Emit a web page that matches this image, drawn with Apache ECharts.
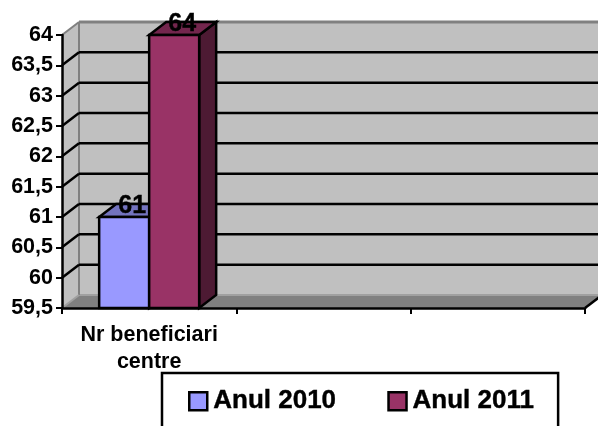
<!DOCTYPE html>
<html>
<head>
<meta charset="utf-8">
<style>
  html, body { margin: 0; padding: 0; background: #fff; }
  #chart { width: 598px; height: 426px; }
</style>
<script src="https://cdn.jsdelivr.net/npm/echarts@6/dist/echarts.min.js"></script>
</head>
<body>
<div id="chart"></div>
<script>
var categories = ['Nr beneficiari\ncentre', '', '']
var values2010 = [61]
var values2011 = [64]
var yTicks = [59.5, 60, 60.5, 61, 61.5, 62, 62.5, 63, 63.5, 64]

var FONT = '"Liberation Sans", Arial, sans-serif'
var DX = 17
var DY = -13
var BAR_W = 50

function poly(points, fill, stroke, width) {
  return {
    type: 'polygon',
    shape: { points: points },
    style: { fill: fill, stroke: stroke, lineWidth: width, lineJoin: 'miter' }
  }
}

function line(x1, y1, x2, y2, color, width) {
  return {
    type: 'line',
    shape: { x1: x1, y1: y1, x2: x2, y2: y2 },
    style: { stroke: color, lineWidth: width }
  }
}

// back wall, side wall, floor and the gridlines that run over them
function renderWalls(params, api) {
  var x0 = params.coordSys.x
  var x1 = x0 + params.coordSys.width
  var yTop = api.coord([0, 64])[1]
  var yBot = api.coord([0, 59.5])[1]
  var kids = [
    poly([[x0 + DX, yTop + DY], [x1 + DX, yTop + DY], [x1 + DX, yBot + DY], [x0 + DX, yBot + DY]], '#c0c0c0'),
    poly([[x0, yTop], [x0 + DX, yTop + DY], [x0 + DX, yBot + DY], [x0, yBot]], '#c0c0c0'),
    poly([[x0, yBot], [x0 + DX, yBot + DY], [x1 + DX, yBot + DY], [x1, yBot]], '#808080'),
    line(x0 + DX, yBot + DY, x1 + DX, yBot + DY, '#a0a0a0', 2),
    line(x0 + DX, yTop + DY, x1 + DX, yTop + DY, '#808080', 3),
    line(x0 + DX, yTop + DY, x0 + DX, yBot + DY, '#808080', 2),
    line(x0, yTop, x0 + DX, yTop + DY, '#808080', 2),
    line(x0, yBot, x0 + DX, yBot + DY, '#a0a0a0', 2),
    line(x1, yBot, x1 + DX, yBot + DY, '#000', 2.5)
  ]
  yTicks.forEach(function (t) {
    if (t === 59.5 || t === 64) return
    var y = api.coord([0, t])[1]
    kids.push(line(x0, y, x0 + DX, y + DY, '#000', 2.5))
    kids.push(line(x0 + DX, y + DY, x1 + DX, y + DY, '#000', 2.5))
  })
  return { type: 'group', children: kids }
}

function barRenderer(offset, front, top, side) {
  return function (params, api) {
    var c = api.coord([api.value(0), api.value(1)])
    var yBot = api.coord([api.value(0), 59.5])[1]
    var x = c[0] + offset
    var y = c[1]
    var w = BAR_W
    return {
      type: 'group',
      children: [
        poly([[x + w, y], [x + w + DX, y + DY], [x + w + DX, yBot + DY], [x + w, yBot]], side, '#000', 2.5),
        poly([[x, y], [x + DX, y + DY], [x + w + DX, y + DY], [x + w, y]], top, '#000', 2.5),
        poly([[x, y], [x + w, y], [x + w, yBot], [x, yBot]], front, '#000', 2.5),
        {
          type: 'text',
          z2: 10,
          style: {
            x: x + w / 2 + 8,
            y: y - 10.5,
            text: String(api.value(1)),
            fill: '#000',
            fontSize: 25,
            fontWeight: 'bold',
            fontFamily: FONT,
            stroke: '#000',
            lineWidth: 0.4,
            align: 'center',
            verticalAlign: 'middle'
          }
        }
      ]
    }
  }
}

function pairs(values) {
  return values.map(function (v, i) { return [i, v] })
}

var chart = echarts.init(document.getElementById('chart'))
chart.setOption({
  animation: false,
  backgroundColor: '#fff',
  textStyle: { fontFamily: FONT },
  grid: { left: 62, right: 13, top: 35, bottom: 118, containLabel: false },
  legend: {
    data: ['Anul 2010', 'Anul 2011'],
    left: 162,
    top: 373,
    orient: 'horizontal',
    backgroundColor: '#fff',
    borderColor: '#000',
    borderWidth: 2.5,
    padding: [15, 24, 40, 26],
    itemGap: 51,
    itemWidth: 18,
    itemHeight: 18,
    icon: 'rect',
    itemStyle: { borderColor: '#000', borderWidth: 2.5 },
    textStyle: {
      fontSize: 26,
      fontWeight: 'bold',
      color: '#000',
      fontFamily: FONT,
      textBorderColor: '#000',
      textBorderWidth: 0.4,
      padding: [0, 0, 0, 1]
    }
  },
  xAxis: {
    type: 'category',
    data: categories,
    boundaryGap: true,
    axisLine: { show: true, onZero: false, lineStyle: { color: '#000', width: 2.5 } },
    axisTick: { show: true, alignWithLabel: false, length: 6, lineStyle: { color: '#000', width: 2 } },
    axisLabel: {
      interval: 0,
      margin: 14,
      color: '#000',
      fontWeight: 'bold',
      fontSize: 21.5,
      lineHeight: 27,
      fontFamily: FONT
    },
    splitLine: { show: false }
  },
  yAxis: {
    type: 'value',
    min: 59.5,
    max: 64,
    interval: 0.5,
    axisLine: { show: true, lineStyle: { color: '#000', width: 2.5 } },
    axisTick: { show: true, length: 6, lineStyle: { color: '#000', width: 2 } },
    axisLabel: {
      margin: 9,
      color: '#000',
      fontWeight: 'bold',
      fontSize: 21.5,
      fontFamily: FONT,
      formatter: function (v) { return String(v).replace('.', ',') }
    },
    splitLine: { show: false }
  },
  series: [
    { type: 'custom', name: 'walls', z: 0, silent: true, data: [[0, 64]], renderItem: renderWalls },
    {
      type: 'custom', name: 'Anul 2010', z: 2, data: pairs(values2010),
      itemStyle: { color: '#9999ff' },
      renderItem: barRenderer(-BAR_W, '#9999ff', '#7373bf', '#4d4d80')
    },
    {
      type: 'custom', name: 'Anul 2011', z: 3, data: pairs(values2011),
      itemStyle: { color: '#993366' },
      renderItem: barRenderer(0, '#993366', '#73264d', '#4d1a33')
    }
  ]
})
</script>
</body>
</html>
